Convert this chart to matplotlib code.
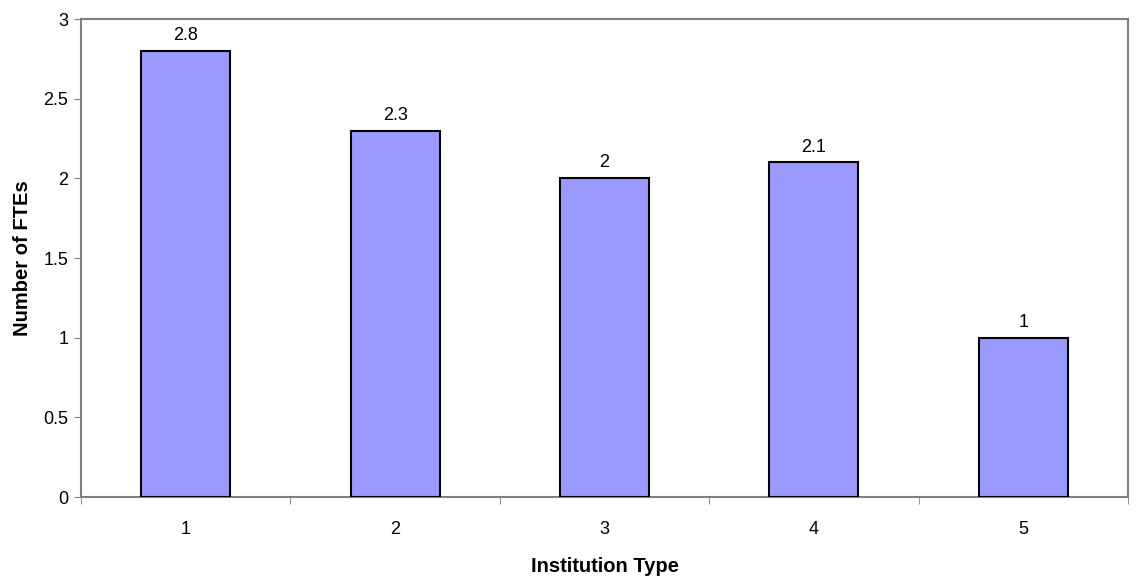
import matplotlib
matplotlib.use('Agg')
from matplotlib import pyplot as plt
import numpy

plt.rcParams['font.family'] = ['Liberation Sans', 'DejaVu Sans']

categories = ['1', '2', '3', '4', '5']
ftes = [2.8, 2.3, 2.0, 2.1, 1.0]
value_labels = ['2.8', '2.3', '2', '2.1', '1']
yticks = [0, 0.5, 1, 1.5, 2, 2.5, 3]
ytick_labels = ['0', '0.5', '1', '1.5', '2', '2.5', '3']

fig = plt.figure(figsize=(11.36, 5.79), dpi=100)
ax = fig.add_axes([0.0713, 0.1416, 0.9217, 0.8254])

x = numpy.arange(len(categories))
bars = ax.bar(x, ftes, width=0.425, color='#9999FF', edgecolor='black', linewidth=1.5, zorder=3)

for b, lab in zip(bars, value_labels):
    ax.annotate(lab, (b.get_x() + b.get_width() / 2, b.get_height()),
                xytext=(0, 5), textcoords='offset points',
                ha='center', va='bottom', fontsize=13)

ax.set_xlim(-0.5, len(categories) - 0.5)
ax.set_ylim(0, 3)
ax.set_yticks(yticks)
ax.set_yticklabels(ytick_labels, fontsize=13)

# category labels in the middle, tick marks between categories
ax.set_xticks(x)
ax.set_xticklabels(categories, fontsize=13)
ax.tick_params(axis='x', length=0, pad=17)
ax.set_xticks(numpy.arange(-0.5, len(categories)), minor=True)
ax.tick_params(axis='x', which='minor', length=5, color='#808080', direction='out')
ax.tick_params(axis='y', length=5, color='#808080', direction='out', pad=4)

for s in ['top', 'right', 'bottom', 'left']:
    ax.spines[s].set_color('#808080')
    ax.spines[s].set_linewidth(1.5)

ax.set_xlabel('Institution Type', fontsize=14.5, fontweight='bold', labelpad=14)
ax.set_ylabel('Number of FTEs', fontsize=14.5, fontweight='bold', labelpad=8)

fig.savefig('out.png', dpi=100)
